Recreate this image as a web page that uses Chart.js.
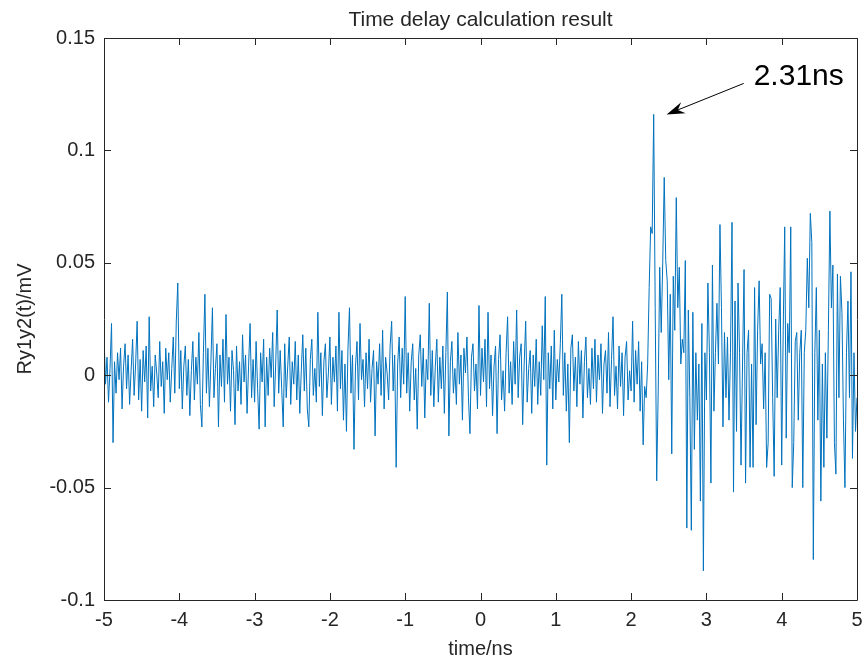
<!DOCTYPE html>
<html>
<head>
<meta charset="utf-8">
<script src="https://cdn.jsdelivr.net/npm/chart.js@4/dist/chart.umd.min.js"></script>
<style>
  html, body { margin: 0; padding: 0; background: #fff; }
  #wrap { width: 864px; height: 657px; }
</style>
</head>
<body>
<div id="wrap"><canvas id="delayChart" width="864" height="657"></canvas></div>
<script>
// sample grid (ns)
const tStart = -5;
const tStep = 0.02;

// Ry1y2(t) in mV, one row = 0.5 ns
const ryValues = [
  0.018, -0.004, 0.008, -0.012, 0.003, 0.023, -0.030, 0.006, -0.008, 0.010, -0.002, 0.012, -0.015, 0.004, 0.014, -0.006, 0.009, -0.013, 0.002, 0.016, -0.009, 0.005, 0.024, -0.011, 0.007,
  -0.016, 0.011, -0.003, 0.013, -0.019, 0.026, -0.007, 0.004, -0.014, 0.009, 0.001, -0.010, 0.015, -0.005, 0.006, -0.017, 0.012, -0.002, 0.010, -0.012, 0.003, 0.017, -0.008, 0.024, 0.041,
  -0.006, 0.011, -0.015, 0.004, 0.013, -0.009, 0.007, -0.018, 0.002, 0.015, -0.011, 0.008, -0.004, 0.019, -0.013, -0.023, 0.010, 0.036, -0.008, 0.012, -0.014, 0.006, 0.030, -0.010, 0.003,
  0.014, -0.023, 0.009, -0.005, 0.016, -0.012, 0.027, -0.004, 0.008, -0.016, 0.011, 0.002, -0.022, 0.013, -0.007, 0.006, -0.013, 0.018, -0.003, 0.009, -0.017, 0.004, 0.023, -0.010, 0.007,
  -0.012, 0.015, -0.006, -0.024, 0.010, -0.003, 0.016, -0.023, 0.008, -0.009, 0.012, -0.001, 0.019, -0.014, 0.005, 0.029, -0.008, 0.011, -0.006, -0.023, 0.014, -0.010, 0.004, 0.017, -0.013,
  0.006, -0.004, 0.015, -0.011, 0.009, -0.017, 0.002, 0.018, -0.007, 0.012, -0.015, -0.023, 0.007, 0.016, -0.009, 0.003, -0.012, 0.028, -0.005, 0.010, -0.018, 0.006, 0.014, -0.010, 0.001,
  0.017, -0.013, 0.008, -0.003, 0.013, -0.016, 0.028, -0.006, 0.011, -0.020, 0.005, -0.025, 0.012, 0.030, -0.008, 0.009, -0.033, 0.004, 0.015, -0.011, 0.023, -0.002, 0.007, -0.014, 0.010,
  -0.006, 0.016, -0.012, 0.003, 0.011, -0.027, 0.006, -0.004, 0.014, -0.009, 0.020, -0.015, 0.008, 0.001, -0.011, 0.013, 0.024, -0.007, 0.009, -0.041, 0.005, 0.017, -0.010, 0.012, -0.004,
  0.035, -0.008, 0.010, -0.016, 0.006, 0.014, -0.011, 0.003, -0.024, 0.009, 0.018, -0.005, 0.012, -0.019, 0.007, -0.002, 0.032, -0.009, 0.011, -0.014, 0.004, 0.016, -0.012, 0.008, -0.006,
  0.013, -0.017, 0.010, 0.037, -0.027, 0.006, 0.015, -0.008, 0.003, -0.013, 0.019, -0.004, 0.009, -0.020, 0.012, 0.001, 0.017, -0.010, -0.026, 0.008, 0.014, -0.007, 0.005, -0.015, 0.031,
  -0.009, 0.012, -0.003, 0.016, -0.014, 0.028, -0.006, 0.009, -0.018, 0.004, 0.013, -0.026, 0.007, 0.018, -0.011, 0.002, -0.016, 0.010, 0.026, -0.008, 0.006, -0.013, 0.015, -0.004, 0.029,
  -0.010, 0.008, 0.014, -0.022, 0.005, 0.024, -0.012, 0.003, 0.011, -0.017, 0.009, -0.005, 0.016, -0.013, 0.006, -0.009, 0.022, -0.002, 0.035, -0.040, 0.010, -0.006, 0.013, -0.015, 0.020,
  -0.011, 0.007, -0.003, 0.014, 0.036, -0.009, 0.010, -0.016, 0.005, -0.030, 0.012, 0.018, -0.007, 0.008, -0.014, 0.015, -0.004, 0.011, -0.019, 0.006, 0.017, -0.010, 0.003, -0.013, 0.012,
  -0.006, 0.016, -0.012, 0.009, -0.002, 0.014, -0.017, 0.005, 0.011, -0.008, 0.019, -0.014, 0.007, 0.026, -0.009, 0.004, -0.015, 0.013, -0.005, 0.010, -0.018, 0.008, 0.015, -0.011, 0.002,
  -0.007, 0.024, -0.012, 0.011, -0.004, 0.015, -0.016, 0.006, -0.031, -0.005, -0.010, 0.005, 0.039, 0.066, 0.063, 0.116, 0.030, -0.047, -0.007, 0.048, 0.019, 0.050, 0.088, 0.051, 0.042,
  -0.002, 0.036, -0.035, 0.044, 0.020, 0.079, 0.030, 0.048, 0.005, 0.016, 0.010, 0.051, -0.068, 0.029, -0.010, -0.069, 0.028, -0.033, 0.010, -0.020, 0.005, -0.056, 0.023, -0.087, 0.010,
  -0.011, 0.041, 0.010, -0.048, 0.049, -0.016, 0.010, 0.032, 0.005, 0.067, 0.030, -0.023, 0.019, -0.010, 0.017, -0.020, 0.010, 0.068, -0.052, 0.033, -0.025, 0.041, 0.010, -0.040, 0.005,
  0.047, -0.048, 0.010, 0.020, -0.041, 0.005, -0.041, 0.039, -0.022, 0.020, 0.042, 0.005, 0.014, -0.015, 0.010, -0.041, -0.030, 0.036, 0.034, -0.010, -0.045, 0.025, -0.010, 0.020, 0.039,
  -0.040, 0.020, 0.066, -0.028, 0.023, 0.010, 0.066, -0.050, -0.030, 0.015, 0.019, -0.020, 0.010, 0.020, -0.050, 0.010, 0.020, 0.052, 0.030, 0.072, 0.059, -0.082, 0.010, 0.039, -0.020,
  0.020, -0.056, 0.005, -0.041, 0.010, -0.028, 0.020, 0.073, 0.030, 0.049, -0.030, -0.044, 0.045, -0.010, 0.044, 0.028, -0.020, -0.050, 0.010, 0.033, -0.010, 0.046, -0.037, 0.010, -0.025,
  -0.010
];

const xTicks = [-5, -4, -3, -2, -1, 0, 1, 2, 3, 4, 5];
const yTicks = [-0.1, -0.05, 0, 0.05, 0.1, 0.15];

const chartTitle = 'Time delay calculation result';
const peakLabel = '2.31ns';

const txtColor = '#262626';
const lineColor = '#0072BD';
const fontFam = '"Liberation Sans", Arial, sans-serif';

// title over plot area, box, inward ticks, arrow annotation
const matlabAxes = {
  id: 'matlabAxes',
  afterDraw(chart) {
    const { ctx, chartArea: a, scales } = chart;
    const tl = 7;
    ctx.save();
    ctx.fillStyle = txtColor;
    ctx.font = '21px ' + fontFam;
    ctx.textAlign = 'center';
    ctx.textBaseline = 'middle';
    ctx.fillText(chartTitle, (a.left + a.right) / 2, 20);

    ctx.strokeStyle = txtColor;
    ctx.lineWidth = 1;
    ctx.beginPath();
    ctx.rect(Math.round(a.left) + 0.5, Math.round(a.top) + 0.5, Math.round(a.right - a.left), Math.round(a.bottom - a.top));
    xTicks.forEach(v => {
      const x = Math.round(scales.x.getPixelForValue(v)) + 0.5;
      ctx.moveTo(x, a.bottom); ctx.lineTo(x, a.bottom - tl);
      ctx.moveTo(x, a.top); ctx.lineTo(x, a.top + tl);
    });
    yTicks.forEach(v => {
      const y = Math.round(scales.y.getPixelForValue(v)) + 0.5;
      ctx.moveTo(a.left, y); ctx.lineTo(a.left + tl, y);
      ctx.moveTo(a.right, y); ctx.lineTo(a.right - tl, y);
    });
    ctx.stroke();

    // arrow pointing at the main peak
    let peakIdx = 0;
    ryValues.forEach((v, i) => { if (v > ryValues[peakIdx]) peakIdx = i; });
    const tipX = scales.x.getPixelForValue(tStart + peakIdx * tStep) + 13;
    const tipY = scales.y.getPixelForValue(ryValues[peakIdx]);
    const tailX = tipX + 77, tailY = tipY - 31;
    const ang = Math.atan2(tipY - tailY, tipX - tailX);
    const c = Math.cos(ang), s = Math.sin(ang);
    ctx.strokeStyle = '#000';
    ctx.fillStyle = '#000';
    ctx.beginPath();
    ctx.moveTo(tailX, tailY);
    ctx.lineTo(tipX - 12 * c, tipY - 12 * s);
    ctx.stroke();
    ctx.beginPath();
    ctx.moveTo(tipX, tipY);
    ctx.lineTo(tipX - 18 * c + 6 * s, tipY - 18 * s - 6 * c);
    ctx.lineTo(tipX - 12 * c, tipY - 12 * s);
    ctx.lineTo(tipX - 18 * c - 6 * s, tipY - 18 * s + 6 * c);
    ctx.closePath();
    ctx.fill();
    ctx.font = '30px ' + fontFam;
    ctx.textAlign = 'left';
    ctx.textBaseline = 'middle';
    ctx.fillText(peakLabel, tailX + 10, tailY - 7);
    ctx.restore();
  }
};

const points = ryValues.map((v, i) => ({ x: tStart + i * tStep, y: v }));

new Chart(document.getElementById('delayChart'), {
  type: 'line',
  data: {
    datasets: [{
      data: points,
      borderColor: lineColor,
      borderWidth: 1,
      pointRadius: 0,
      tension: 0,
      fill: false
    }]
  },
  options: {
    responsive: false,
    animation: false,
    layout: { padding: { left: 0, right: 0, top: 38, bottom: 0 } },
    plugins: {
      legend: { display: false },
      tooltip: { enabled: false },
      title: { display: false }
    },
    scales: {
      x: {
        type: 'linear',
        min: -5,
        max: 5,
        afterBuildTicks: s => { s.ticks = xTicks.map(v => ({ value: v })); },
        afterFit: s => { s.height = 57; s.paddingRight = 7; s.paddingLeft = 0; },
        grid: { display: false, drawTicks: false },
        border: { display: false },
        ticks: { color: txtColor, font: { family: fontFam, size: 20 }, padding: 8, maxRotation: 0 },
        title: { display: true, text: 'time/ns', color: txtColor, font: { family: fontFam, size: 20, lineHeight: 1.0 }, padding: { top: 2, bottom: -2 } }
      },
      y: {
        min: -0.1,
        max: 0.15,
        afterBuildTicks: s => { s.ticks = yTicks.map(v => ({ value: v })); },
        afterFit: s => { s.width = 104; },
        grid: { display: false, drawTicks: false },
        border: { display: false },
        ticks: { color: txtColor, font: { family: fontFam, size: 20 }, padding: 9, callback: v => String(v) },
        title: { display: true, text: 'Ry1y2(t)/mV', color: txtColor, font: { family: fontFam, size: 20 }, padding: { top: 13, bottom: 0 } }
      }
    }
  },
  plugins: [matlabAxes]
});
</script>
</body>
</html>
